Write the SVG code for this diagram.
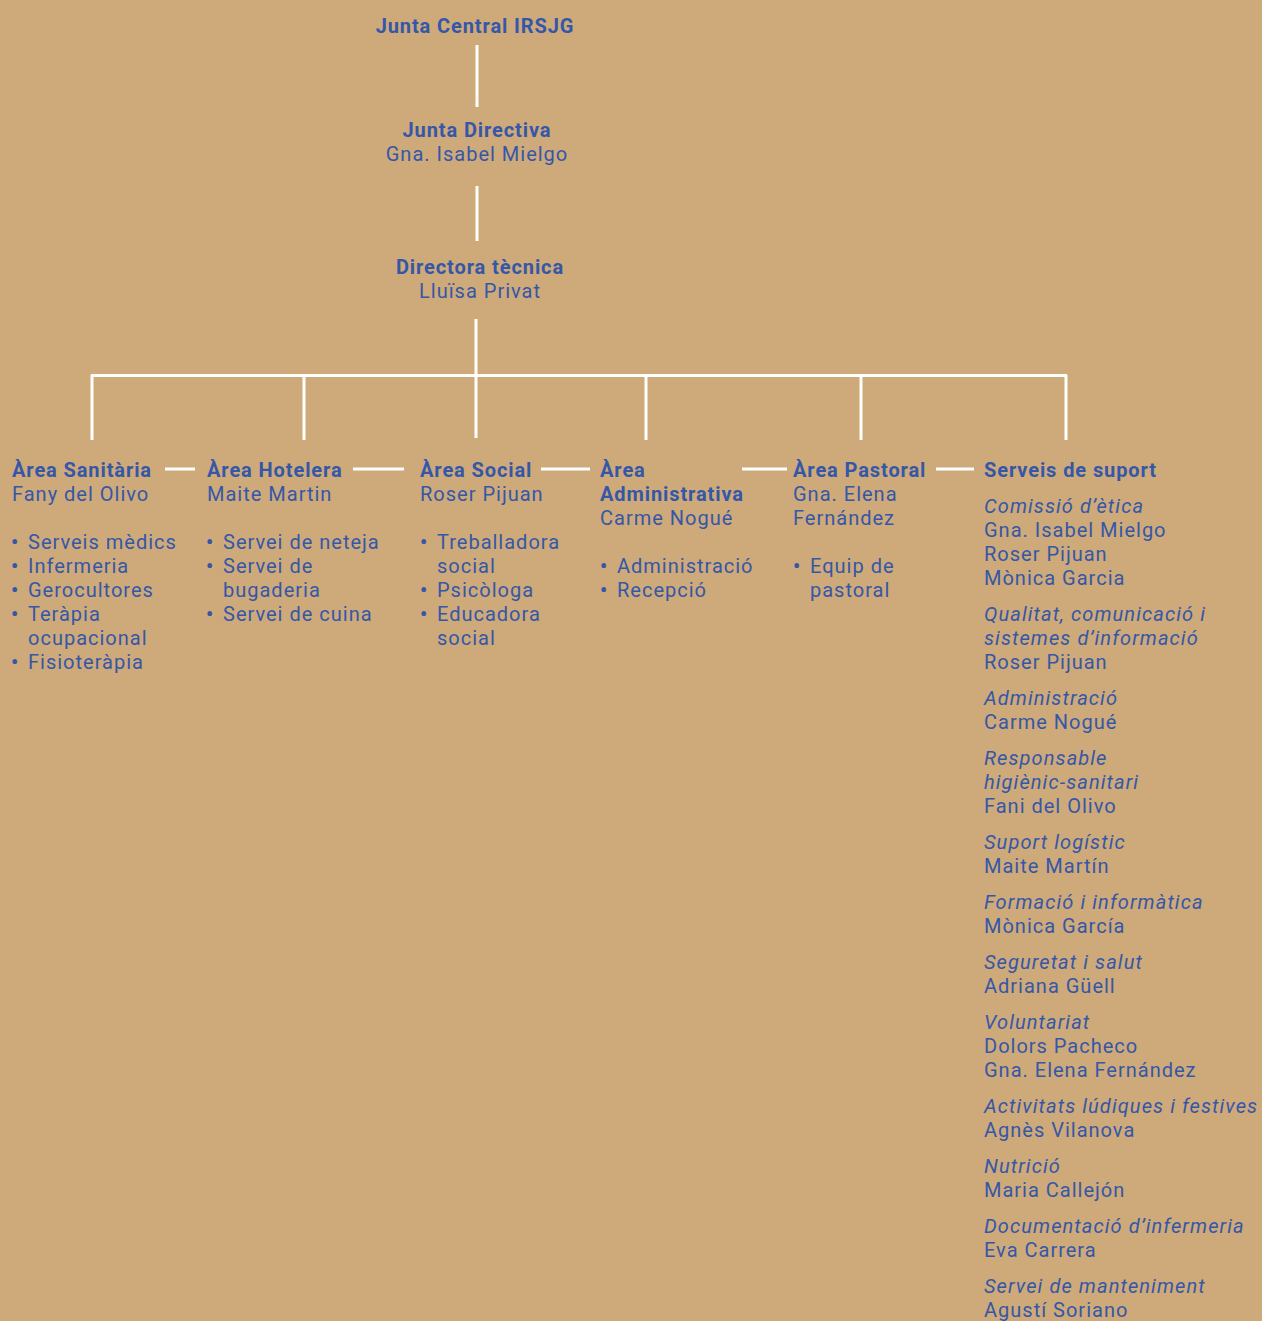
<svg xmlns="http://www.w3.org/2000/svg" width="1262" height="1321" viewBox="0 0 1262 1321">
<style>
text{font-family:Roboto,"Open Sans",sans-serif;font-size:20px;fill:#3557A8;letter-spacing:1px}
.b{font-weight:bold;letter-spacing:0.9px}
.i{font-style:italic;letter-spacing:1.1px}
.c{text-anchor:middle}
.d{font-weight:bold;letter-spacing:0}
.ln{stroke:#fff;stroke-width:3;fill:none}
</style>
<rect width="1262" height="1321" fill="#CEA979"/>
<g id="connectors" class="ln">
<line x1="477" y1="45" x2="477" y2="107"/>
<line x1="477" y1="186" x2="477" y2="241"/>
<line x1="476" y1="319" x2="476" y2="375"/>
<line x1="91" y1="375.5" x2="1067" y2="375.5"/>
<line x1="92" y1="375" x2="92" y2="440"/>
<line x1="304" y1="375" x2="304" y2="440"/>
<line x1="476" y1="375" x2="476" y2="438"/>
<line x1="646" y1="375" x2="646" y2="440"/>
<line x1="861" y1="375" x2="861" y2="440"/>
<line x1="1066" y1="375" x2="1066" y2="440"/>
<line x1="165" y1="469" x2="195" y2="469"/>
<line x1="353" y1="469" x2="404" y2="469"/>
<line x1="541" y1="469" x2="590" y2="469"/>
<line x1="742" y1="469" x2="787" y2="469"/>
<line x1="936" y1="469" x2="974" y2="469"/>
</g>
<g id="junta-central"><text class="b c" x="475" y="33">Junta Central IRSJG</text></g>
<g id="junta-directiva"><text class="c" x="477" y="137"><tspan class="b">Junta Directiva</tspan><tspan x="477" dy="24">Gna. Isabel Mielgo</tspan></text></g>
<g id="directora"><text class="c" x="480" y="274"><tspan class="b">Directora tècnica</tspan><tspan x="480" dy="24">Lluïsa Privat</tspan></text></g>
<g id="area-sanitaria">
<text x="12" y="477"><tspan class="b">Àrea Sanitària</tspan><tspan x="12" dy="24">Fany del Olivo</tspan><tspan class="d" x="11" dy="48">•</tspan><tspan x="28">Serveis mèdics</tspan><tspan class="d" x="11" dy="24">•</tspan><tspan x="28">Infermeria</tspan><tspan class="d" x="11" dy="24">•</tspan><tspan x="28">Gerocultores</tspan><tspan class="d" x="11" dy="24">•</tspan><tspan x="28">Teràpia</tspan><tspan x="28" dy="24">ocupacional</tspan><tspan class="d" x="11" dy="24">•</tspan><tspan x="28">Fisioteràpia</tspan></text>
</g>
<g id="area-hotelera">
<text x="207" y="477"><tspan class="b">Àrea Hotelera</tspan><tspan x="207" dy="24">Maite Martin</tspan><tspan class="d" x="206" dy="48">•</tspan><tspan x="223">Servei de neteja</tspan><tspan class="d" x="206" dy="24">•</tspan><tspan x="223">Servei de</tspan><tspan x="223" dy="24">bugaderia</tspan><tspan class="d" x="206" dy="24">•</tspan><tspan x="223">Servei de cuina</tspan></text>
</g>
<g id="area-social">
<text x="420" y="477"><tspan class="b">Àrea Social</tspan><tspan x="420" dy="24">Roser Pijuan</tspan><tspan class="d" x="420" dy="48">•</tspan><tspan x="437">Treballadora</tspan><tspan x="437" dy="24">social</tspan><tspan class="d" x="420" dy="24">•</tspan><tspan x="437">Psicòloga</tspan><tspan class="d" x="420" dy="24">•</tspan><tspan x="437">Educadora</tspan><tspan x="437" dy="24">social</tspan></text>
</g>
<g id="area-administrativa">
<text x="600" y="477"><tspan class="b">Àrea</tspan><tspan class="b" x="600" dy="24">Administrativa</tspan><tspan x="600" dy="24">Carme Nogué</tspan><tspan class="d" x="600" dy="48">•</tspan><tspan x="617">Administració</tspan><tspan class="d" x="600" dy="24">•</tspan><tspan x="617">Recepció</tspan></text>
</g>
<g id="area-pastoral">
<text x="793" y="477"><tspan class="b">Àrea Pastoral</tspan><tspan x="793" dy="24">Gna. Elena</tspan><tspan x="793" dy="24">Fernández</tspan><tspan class="d" x="793" dy="48">•</tspan><tspan x="810">Equip de</tspan><tspan x="810" dy="24">pastoral</tspan></text>
</g>
<g id="serveis-suport">
<text x="984" y="477"><tspan class="b">Serveis de suport</tspan><tspan class="i" x="984" dy="36">Comissió d’ètica</tspan><tspan x="984" dy="24">Gna. Isabel Mielgo</tspan><tspan x="984" dy="24">Roser Pijuan</tspan><tspan x="984" dy="24">Mònica Garcia</tspan><tspan class="i" x="984" dy="36">Qualitat, comunicació i</tspan><tspan class="i" x="984" dy="24">sistemes d’informació</tspan><tspan x="984" dy="24">Roser Pijuan</tspan><tspan class="i" x="984" dy="36">Administració</tspan><tspan x="984" dy="24">Carme Nogué</tspan><tspan class="i" x="984" dy="36">Responsable</tspan><tspan class="i" x="984" dy="24">higiènic-sanitari</tspan><tspan x="984" dy="24">Fani del Olivo</tspan><tspan class="i" x="984" dy="36">Suport logístic</tspan><tspan x="984" dy="24">Maite Martín</tspan><tspan class="i" x="984" dy="36">Formació i informàtica</tspan><tspan x="984" dy="24">Mònica García</tspan><tspan class="i" x="984" dy="36">Seguretat i salut</tspan><tspan x="984" dy="24">Adriana Güell</tspan><tspan class="i" x="984" dy="36">Voluntariat</tspan><tspan x="984" dy="24">Dolors Pacheco</tspan><tspan x="984" dy="24">Gna. Elena Fernández</tspan><tspan class="i" x="984" dy="36">Activitats lúdiques i festives</tspan><tspan x="984" dy="24">Agnès Vilanova</tspan><tspan class="i" x="984" dy="36">Nutrició</tspan><tspan x="984" dy="24">Maria Callejón</tspan><tspan class="i" x="984" dy="36">Documentació d’infermeria</tspan><tspan x="984" dy="24">Eva Carrera</tspan><tspan class="i" x="984" dy="36">Servei de manteniment</tspan><tspan x="984" dy="24">Agustí Soriano</tspan></text>
</g>
</svg>
